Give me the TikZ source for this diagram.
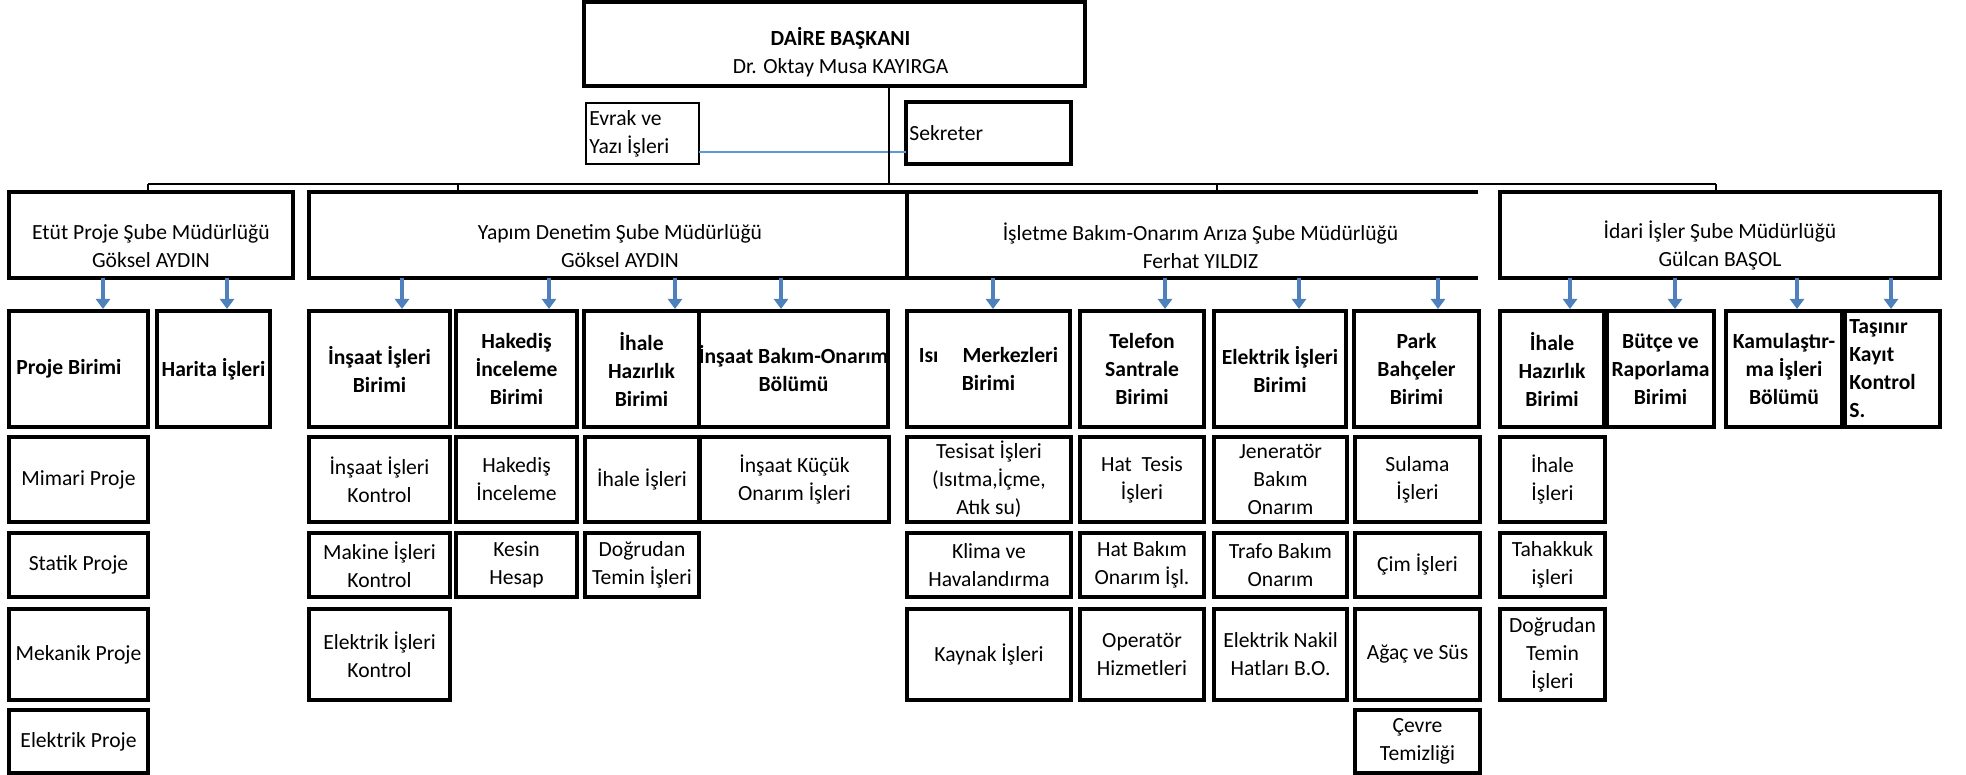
\documentclass[tikz,border=0pt]{standalone}
\usepackage{fontspec}
\setmainfont{Carlito}
\usetikzlibrary{arrows.meta}
\definecolor{arrblue}{RGB}{79,129,189}
\definecolor{lineblue}{RGB}{91,155,213}
\newcommand\fs{\fontsize{10.8}{14}\selectfont}
% #1 box style, #2 text style, #3 name, #4 x1, #5 y1, #6 x2, #7 y2, #8 text
\newcommand\orgbox[8]{%
  \node[#1, minimum width={(#6-#4)*0.5pt}, minimum height={(#7-#5)*0.5pt}] (#3) at ({(#4+#6)/2},{(#5+#7)/2}) {};
  \node[txt,#2] (#3t) at (#3.center) {#8};}
% #1 header, #2 box, #3 x
\newcommand\orgarr[3]{\coordinate (a#2) at (#3,0); \draw[barrow] (#1.south -| a#2) -- (#2.north -| a#2);}
\begin{document}
\begin{tikzpicture}[x=0.5pt,y=-0.5pt,
  tbox/.style={draw, line width=2pt, inner sep=0pt, outer sep=0pt},
  nbox/.style={draw, line width=1pt, inner sep=0pt, outer sep=0pt},
  nodrawbox/.style={inner sep=0pt, outer sep=0pt},
  txt/.style={font=\fs, align=center, inner sep=0pt},
  bt/.style={font=\fs\bfseries},
  barrow/.style={draw=arrblue, line width=2.2pt, -{Triangle[width=7pt,length=5pt]}, shorten >=1pt},
  conn/.style={line width=0.8pt},
  busline/.style={line width=1.2pt},
  bline/.style={draw=lineblue, line width=0.9pt}]
\useasboundingbox (0,0) rectangle (1966,775);

% top
\orgbox{tbox}{yshift=-4pt,xshift=3pt}{daire}{584}{2}{1085}{86}{{\bfseries DAİRE BAŞKANI}\\Dr. Oktay Musa KAYIRGA}
\node[nbox, minimum width={(699-586)*0.5pt}, minimum height={(164-103)*0.5pt}] (evrak) at ({(586+699)/2},{(103+164)/2}) {};
\node[txt, align=left, anchor=west] (evrakt) at ([xshift=1.5pt]evrak.west) {Evrak ve\\Yazı İşleri};
\node[tbox, minimum width={(1071-906)*0.5pt}, minimum height={(164-102)*0.5pt}] (sekreter) at ({(906+1071)/2},{(102+164)/2}) {};
\node[txt, anchor=west] (sekretert) at ([xshift=1.5pt]sekreter.west) {Sekreter};

% headers
\orgbox{tbox}{yshift=-5.5pt}{etut}{9}{192}{293}{278}{Etüt Proje Şube Müdürlüğü\\Göksel AYDIN}
\orgbox{tbox}{yshift=-5.5pt,xshift=6pt}{yapim}{309}{192}{907}{278}{Yapım Denetim Şube Müdürlüğü\\Göksel AYDIN}
\orgbox{nodrawbox}{yshift=-5.5pt,xshift=4pt}{islet}{907}{192}{1478}{278}{İşletme Bakım-Onarım Arıza Şube Müdürlüğü\\Ferhat YILDIZ}
\draw[line width=2pt] (islet.north east) -- (islet.north west) -- (islet.south west) -- (islet.south east);
\orgbox{tbox}{yshift=-5.5pt}{idari}{1500}{192}{1940}{278}{İdari İşler Şube Müdürlüğü\\Gülcan BAŞOL}

% connectors top
\coordinate (bj) at (889,184);
\coordinate (busL) at (148,184);
\coordinate (busR) at (1716,184);
\coordinate (t2) at (458,184);
\coordinate (t3) at (1217,184);
\coordinate (bl) at (0,152);
\draw[bline] (evrak.east |- bl) -- (sekreter.west |- bl);
\draw[conn] (daire.south -| bj) -- (bj);
\draw[busline] (busL) -- (busR);
\draw[conn] (busL) -- (etut.north -| busL);
\draw[conn] (t2) -- (yapim.north -| t2);
\draw[conn] (t3) -- (islet.north -| t3);
\draw[conn] (busR) -- (idari.north -| busR);

% row 1
\node[tbox, minimum width={(148-9)*0.5pt}, minimum height={(427-311)*0.5pt}] (proje) at ({(9+148)/2},{(311+427)/2}) {};
\node[txt, bt, anchor=west] (projet) at ([xshift=3.5pt]proje.west) {Proje Birimi};
\orgbox{tbox}{bt}{harita}{157}{311}{270}{427}{Harita İşleri}
\orgbox{tbox}{bt}{insB}{309}{311}{450}{427}{İnşaat İşleri\\Birimi}
\orgbox{tbox}{bt}{hakB}{456}{311}{577}{427}{Hakediş\\İnceleme\\Birimi}
\orgbox{tbox}{bt}{ihaleB}{584}{311}{699}{427}{İhale\\Hazırlık\\Birimi}
\orgbox{tbox}{bt}{bakimB}{699}{311}{888}{427}{İnşaat Bakım-Onarım\\Bölümü}
\orgbox{tbox}{bt}{isiB}{907}{311}{1070}{427}{Isı\hspace{12pt}Merkezleri\\Birimi}
\orgbox{tbox}{bt}{telB}{1080}{311}{1204}{427}{Telefon\\Santrale\\Birimi}
\orgbox{tbox}{bt}{elkB}{1214}{311}{1346}{427}{Elektrik İşleri\\Birimi}
\orgbox{tbox}{bt}{parkB}{1354}{311}{1479}{427}{Park\\Bahçeler\\Birimi}
\orgbox{tbox}{bt}{ihaleD}{1500}{311}{1604}{427}{İhale\\Hazırlık\\Birimi}
\orgbox{tbox}{bt}{butceD}{1607}{311}{1714}{427}{Bütçe ve\\Raporlama\\Birimi}
\orgbox{tbox}{bt}{kamuD}{1726}{311}{1842}{427}{Kamulaştır-\\ma İşleri\\Bölümü}
\node[tbox, minimum width={(1940-1845)*0.5pt}, minimum height={(427-311)*0.5pt}] (tasD) at ({(1845+1940)/2},{(311+427)/2}) {};
\node[txt, bt, align=left, anchor=west] (tasDt) at ([xshift=2pt]tasD.west) {Taşınır\\Kayıt\\Kontrol\\S.};

% row 2
\orgbox{tbox}{}{mimari}{9}{437}{148}{522}{Mimari Proje}
\orgbox{tbox}{}{insK}{309}{437}{450}{522}{İnşaat İşleri\\Kontrol}
\orgbox{tbox}{}{hakI}{456}{437}{577}{522}{Hakediş\\İnceleme}
\orgbox{tbox}{}{ihaleI}{585}{437}{699}{522}{İhale İşleri}
\orgbox{tbox}{}{kucuk}{700}{437}{889}{522}{İnşaat Küçük\\Onarım İşleri}
\orgbox{tbox}{}{tesisat}{907}{437}{1071}{522}{Tesisat İşleri\\(Isıtma,İçme,\\Atık su)}
\orgbox{tbox}{}{hattesis}{1080}{437}{1204}{522}{Hat~~Tesis\\İşleri}
\orgbox{tbox}{}{jener}{1214}{437}{1347}{522}{Jeneratör\\Bakım\\Onarım}
\orgbox{tbox}{}{sulama}{1355}{437}{1480}{522}{Sulama\\İşleri}
\orgbox{tbox}{}{ihaleIs}{1500}{437}{1605}{522}{İhale\\İşleri}

% row 3
\orgbox{tbox}{}{statik}{9}{533}{148}{597}{Statik Proje}
\orgbox{tbox}{}{makine}{309}{533}{450}{597}{Makine İşleri\\Kontrol}
\orgbox{tbox}{}{kesin}{456}{533}{577}{597}{Kesin\\Hesap}
\orgbox{tbox}{}{dogY}{585}{533}{699}{597}{Doğrudan\\Temin İşleri}
\orgbox{tbox}{}{klima}{907}{533}{1071}{597}{Klima ve\\Havalandırma}
\orgbox{tbox}{}{hatbakim}{1080}{533}{1204}{597}{Hat Bakım\\Onarım İşl.}
\orgbox{tbox}{}{trafo}{1214}{533}{1347}{597}{Trafo Bakım\\Onarım}
\orgbox{tbox}{}{cim}{1355}{533}{1480}{597}{Çim İşleri}
\orgbox{tbox}{}{tahakkuk}{1500}{533}{1605}{597}{Tahakkuk\\işleri}

% row 4
\orgbox{tbox}{}{mekanik}{9}{609}{148}{700}{Mekanik Proje}
\orgbox{tbox}{}{elkK}{309}{609}{450}{700}{Elektrik İşleri\\Kontrol}
\orgbox{tbox}{}{kaynak}{907}{609}{1071}{700}{Kaynak İşleri}
\orgbox{tbox}{}{operator}{1080}{609}{1204}{700}{Operatör\\Hizmetleri}
\orgbox{tbox}{}{nakil}{1214}{609}{1347}{700}{Elektrik Nakil\\Hatları B.O.}
\orgbox{tbox}{}{agac}{1355}{609}{1480}{700}{Ağaç ve Süs}
\orgbox{tbox}{}{dogD}{1500}{609}{1605}{700}{Doğrudan\\Temin\\İşleri}

% row 5
\orgbox{tbox}{}{elkP}{9}{710}{148}{773}{Elektrik Proje}
\orgbox{tbox}{}{cevre}{1355}{710}{1480}{773}{Çevre\\Temizliği}

% arrows
\orgarr{etut}{proje}{103}
\orgarr{etut}{harita}{227}
\orgarr{yapim}{insB}{402}
\orgarr{yapim}{hakB}{549}
\orgarr{yapim}{ihaleB}{675}
\orgarr{yapim}{bakimB}{781}
\orgarr{islet}{isiB}{993}
\orgarr{islet}{telB}{1165}
\orgarr{islet}{elkB}{1299}
\orgarr{islet}{parkB}{1438}
\orgarr{idari}{ihaleD}{1570}
\orgarr{idari}{butceD}{1675}
\orgarr{idari}{kamuD}{1797}
\orgarr{idari}{tasD}{1891}
\end{tikzpicture}
\end{document}
